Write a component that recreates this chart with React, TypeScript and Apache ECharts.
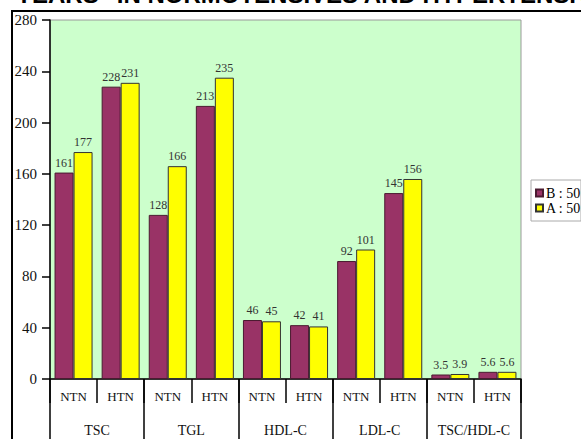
import React, { useEffect, useRef } from "react";
import * as echarts from "echarts";

const subCategories = ["NTN", "HTN", "NTN", "HTN", "NTN", "HTN", "NTN", "HTN", "NTN", "HTN"];
const groups = ["TSC", "TGL", "HDL-C", "LDL-C", "TSC/HDL-C"];
const seriesBName = "B : 50";
const seriesAName = "A : 50";
const seriesB = [161, 228, 128, 213, 46, 42, 92, 145, 3.5, 5.6];
const seriesA = [177, 231, 166, 235, 45, 41, 101, 156, 3.9, 5.6];
const yTicks = { min: 0, max: 280, interval: 40 };
const titleText = 'YEARS" IN NORMOTENSIVES AND HYPERTENSIVES';

const SERIF = "'Liberation Serif', 'Times New Roman', serif";

export default function App() {
  const ref = useRef<HTMLDivElement>(null);
  useEffect(() => {
    if (!ref.current) return;
    const chart = echarts.init(ref.current, null, { renderer: "svg" });
    const labelStyle = {
      show: true,
      position: "top" as const,
      distance: 4,
      fontFamily: SERIF,
      fontSize: 12,
      color: "#333",
    };
    chart.setOption({
      animation: false,
      backgroundColor: "#ffffff",
      grid: {
        left: 50,
        right: 60,
        top: 20,
        bottom: 60,
        show: true,
        backgroundColor: "#CCFFCC",
        borderColor: "#9a9a9a",
        borderWidth: 1,
      },
      legend: {
        orient: "vertical",
        left: 531,
        top: 180,
        padding: [6, 0, 6, 4],
        itemGap: 1,
        itemWidth: 7,
        itemHeight: 7,
        icon: "rect",
        borderColor: "#aaa",
        borderWidth: 1,
        textStyle: { fontFamily: SERIF, fontSize: 14, lineHeight: 12, color: "#000", padding: [0, 0, 0, -2] },
        data: [seriesBName, seriesAName],
      },
      xAxis: [
        {
          type: "category",
          data: subCategories,
          position: "bottom",
          axisLine: { show: true, lineStyle: { color: "#000", width: 1.5 } },
          axisTick: { show: true, interval: 0, length: 24, lineStyle: { color: "#000", width: 1.5 } },
          axisLabel: { interval: 0, margin: 11, fontFamily: SERIF, fontSize: 13, color: "#111" },
          splitLine: { show: false },
        },
        {
          type: "category",
          data: groups,
          position: "bottom",
          axisLine: { show: false },
          axisTick: { show: true, interval: 0, length: 70, lineStyle: { color: "#000", width: 1.5 } },
          axisLabel: { interval: 0, margin: 44, fontFamily: SERIF, fontSize: 14, color: "#111" },
          splitLine: { show: false },
        },
      ],
      yAxis: {
        type: "value",
        min: yTicks.min,
        max: yTicks.max,
        interval: yTicks.interval,
        axisLine: { show: true, lineStyle: { color: "#000", width: 1.5 } },
        axisTick: { show: true, length: 8, lineStyle: { color: "#000", width: 1.5 } },
        axisLabel: { margin: 13, fontFamily: SERIF, fontSize: 15, color: "#111" },
        splitLine: { show: false },
      },
      series: [
        {
          name: seriesBName,
          type: "bar",
          xAxisIndex: 0,
          data: seriesB,
          barWidth: 19,
          barGap: "0%",
          itemStyle: { color: "#993366", borderColor: "#4a1a30", borderWidth: 1 },
          label: labelStyle,
        },
        {
          name: seriesAName,
          type: "bar",
          xAxisIndex: 0,
          data: seriesA,
          barWidth: 19,
          barGap: "0%",
          itemStyle: { color: "#FFFF00", borderColor: "#333", borderWidth: 1 },
          label: labelStyle,
        },
      ],
      graphic: [
        {
          type: "rect",
          silent: true,
          z: 100,
          shape: { x: 12, y: 11, width: 800, height: 600 },
          style: { fill: "none", stroke: "#000", lineWidth: 2 },
        },
        {
          type: "text",
          silent: true,
          x: 16,
          y: 6,
          style: {
            text: titleText,
            font: "bold 24px 'Liberation Sans', Arial, sans-serif",
            fill: "#000",
            verticalAlign: "bottom",
          },
        },
      ],
    });
    return () => chart.dispose();
  }, []);
  return (
    <div
      ref={ref}
      style={{ position: "fixed", left: 0, top: 0, width: 581, height: 439 }}
    />
  );
}
